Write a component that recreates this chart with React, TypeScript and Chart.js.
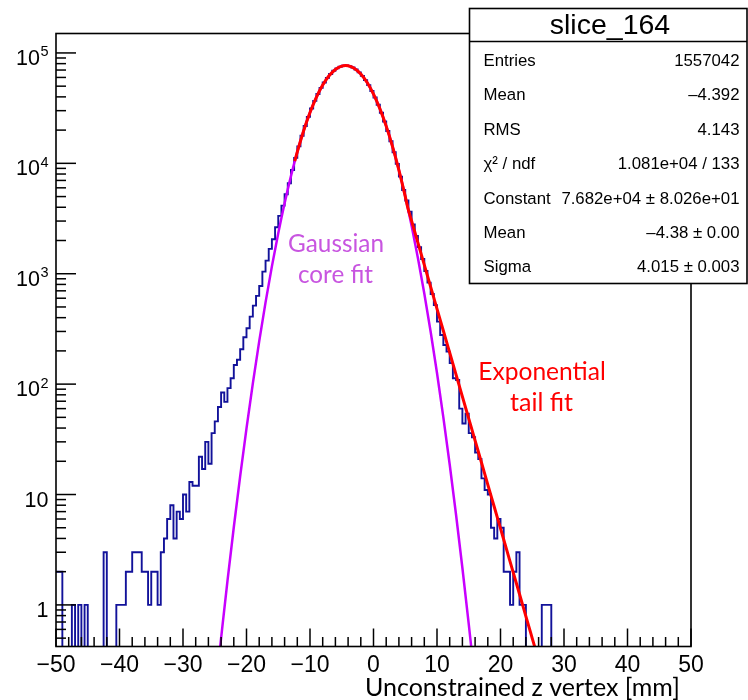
import React, { useEffect, useRef } from 'react';
import { Chart, registerables } from 'chart.js';

Chart.register(...registerables);

// ---------------- data ----------------
const histLow = -50;
const binWidth = 0.5;
// counts per 0.5 mm bin, from -50 to +50 (200 bins)
const counts = [
  2, 2, 0, 0, 0, 1, 0, 1, 0, 1, 0, 0, 0, 0, 0, 3, 0, 0, 0, 1,
  1, 1, 2, 2, 3, 3, 3, 2, 2, 1, 2, 2, 1, 3, 4, 6, 8, 4, 7, 6,
  10, 7, 13, 12, 12, 22, 17, 30, 19, 36, 46, 62, 84, 69, 92, 113, 149, 166, 207, 266,
  321, 409, 514, 630, 775, 1045, 1315, 1680, 2050, 2640, 3340, 4140, 5250, 6600, 8700, 11200, 14250, 17770, 21820, 26380,
  31400, 36810, 42490, 48270, 54010, 59500, 64540, 68920, 72470, 75040, 76500, 76780, 75880, 73840, 70740, 66730, 61990, 56690, 51050, 45250,
  39510, 33960, 28740, 23940, 19650, 15870, 12600, 9890, 7580, 5740, 4600, 3650, 2800, 2200, 1740, 1360, 1060, 830, 656, 520,
  368, 279, 226, 197, 155, 113, 109, 60, 44, 54, 36, 33, 24, 21, 14, 11, 10, 5, 4, 6,
  5, 2, 2, 1, 2, 3, 1, 1, 0, 0, 0, 0, 0, 1, 1, 1, 0, 0, 0, 0,
  0, 0, 0, 0, 0, 0, 0, 0, 0, 0, 0, 0, 0, 0, 0, 0, 0, 0, 0, 0,
  0, 0, 0, 0, 0, 0, 0, 0, 0, 0, 0, 0, 0, 0, 0, 0, 0, 0, 0, 0,
];

// Gaussian core fit curve
const gaussX = [-24.2, -23, -22, -21, -20, -19, -18, -17, -16, -15, -14, -13, -12, -11, -10, -9, -8, -7, -6, -5, -4.4, -4, -3, -2, -1, 0, 1, 2, 3, 4, 5, 6, 7, 8, 9, 10, 11, 12, 13, 14, 15, 15.4];
const gaussY = [0.393, 1.64, 5.05, 14.6, 39.7, 101.5, 244, 550, 1166, 2325, 4353, 7665, 12690, 19740, 28850, 39630, 51170, 62090, 70850, 75910, 76820, 76480, 72420, 64450, 53900, 42380, 31300, 21740, 14190, 8700, 5017, 2718, 1384, 662, 298, 126, 50.0, 18.7, 6.56, 2.16, 0.671, 0.412];

// Core + exponential tail fit curve
const tailX = [-12.4, -12, -11, -10, -9, -8, -7, -6, -5, -4.4, -4, -3, -2, -1, 0, 1, 2, 3, 4, 5, 5.4, 6, 7, 8, 9, 10, 11, 12, 13, 14, 15, 16, 17, 18, 19, 20, 21, 22, 23, 24, 25, 25.5];
const tailY = [10450, 12690, 19740, 28850, 39630, 51170, 62090, 70850, 75910, 76820, 76480, 72420, 64450, 53900, 42380, 31300, 21740, 14190, 8700, 5017, 3963, 3010, 1904, 1204, 761, 481, 304.5, 192.6, 121.8, 77.0, 48.7, 30.8, 19.5, 12.3, 7.79, 4.93, 3.12, 1.97, 1.25, 0.788, 0.498, 0.396];

const xMajorTicks = [-50, -40, -30, -20, -10, 0, 10, 20, 30, 40, 50];
const yDecades = [0, 1, 2, 3, 4, 5];
const xRange = [-50, 50];
const yRange = [0.42, 1.5e5];

const xTitle = 'Unconstrained z vertex [mm]';
const gaussLabel = ['Gaussian', 'core fit'];
const tailLabel = ['Exponential', 'tail fit'];

const statsTitle = 'slice_164';
const statsLabels = ['Entries', 'Mean', 'RMS', 'χ² / ndf', 'Constant', 'Mean', 'Sigma'];
const statsValues = ['1557042', '–4.392', '4.143', '1.081e+04 / 133', '7.682e+04 ± 8.026e+01', '–4.38 ± 0.00', '4.015 ± 0.003'];

// ---------------- styling ----------------
const SANS = '"Liberation Sans", Arial, Helvetica, sans-serif';
const CAL = 'Lato, "Open Sans", sans-serif';

function fitFont(ctx: CanvasRenderingContext2D, text: string, family: string, width: number) {
  ctx.font = `100px ${family}`;
  const w = ctx.measureText(text).width;
  const size = (100 * width) / w;
  ctx.font = `${size}px ${family}`;
}

const rootPlugin = {
  id: 'rootStyle',
  afterDatasetsDraw(chart: any) {
    const { ctx, chartArea: a } = chart;
    const x = chart.scales.x;
    const y = chart.scales.y;
    ctx.save();
    ctx.strokeStyle = '#000';
    ctx.fillStyle = '#000';
    ctx.lineWidth = 1.6;
    // frame
    ctx.strokeRect(a.left, a.top, a.right - a.left, a.bottom - a.top);

    // x ticks (inside, from bottom)
    ctx.lineWidth = 1.5;
    for (let i = 0; i < xMajorTicks.length; i++) {
      const v = xMajorTicks[i];
      const px = x.getPixelForValue(v);
      ctx.beginPath();
      ctx.moveTo(px, a.bottom);
      ctx.lineTo(px, a.bottom - 18);
      ctx.stroke();
      if (i < xMajorTicks.length - 1) {
        const step = (xMajorTicks[i + 1] - v) / 5;
        for (let m = 1; m < 5; m++) {
          const pm = x.getPixelForValue(v + m * step);
          ctx.beginPath();
          ctx.moveTo(pm, a.bottom);
          ctx.lineTo(pm, a.bottom - 9.5);
          ctx.stroke();
        }
      }
    }
    // y ticks (inside, from left)
    for (let k = yDecades[0] - 1; k <= yDecades[yDecades.length - 1]; k++) {
      for (let m = 1; m <= 9; m++) {
        const v = m * Math.pow(10, k);
        if (v < y.min || v > y.max) continue;
        const py = y.getPixelForValue(v);
        ctx.beginPath();
        ctx.moveTo(a.left, py);
        ctx.lineTo(a.left + (m === 1 ? 20 : 10), py);
        ctx.stroke();
      }
    }

    // x labels
    ctx.font = `23px ${SANS}`;
    ctx.textAlign = 'center';
    ctx.textBaseline = 'alphabetic';
    for (const v of xMajorTicks) {
      const px = x.getPixelForValue(v);
      const s = v < 0 ? '\u2212' + Math.abs(v) : String(v);
      ctx.fillText(s, px, a.bottom + 25.5);
    }
    // y labels
    ctx.textAlign = 'left';
    const rightEdge = a.left - 7.5;
    for (const k of yDecades) {
      const py = y.getPixelForValue(Math.pow(10, k));
      const base = py + 12;
      if (k === 0 || k === 1) {
        ctx.font = `21.5px ${SANS}`;
        const s = k === 0 ? '1' : '10';
        const w = ctx.measureText(s).width;
        ctx.fillText(s, rightEdge - w, base);
      } else {
        ctx.font = `14.5px ${SANS}`;
        const sup = String(k);
        const ws = ctx.measureText(sup).width;
        ctx.font = `21.5px ${SANS}`;
        const wb = ctx.measureText('10').width;
        const x0 = rightEdge - ws - wb - 0.5;
        ctx.fillText('10', x0, base);
        ctx.font = `14.5px ${SANS}`;
        ctx.fillText(sup, x0 + wb + 0.5, base - 8.5);
      }
    }

    // axis title
    ctx.textAlign = 'left';
    fitFont(ctx, xTitle, CAL, 315);
    ctx.fillStyle = '#000';
    ctx.fillText(xTitle, 365, 696);

    // annotations
    ctx.textAlign = 'center';
    ctx.fillStyle = '#C855E0';
    fitFont(ctx, gaussLabel[0], CAL, 96);
    ctx.fillText(gaussLabel[0], 336, 251.5);
    fitFont(ctx, gaussLabel[1], CAL, 75);
    ctx.fillText(gaussLabel[1], 335.5, 283);
    ctx.fillStyle = '#FF0000';
    fitFont(ctx, tailLabel[0], CAL, 127.5);
    ctx.fillText(tailLabel[0], 542, 380);
    fitFont(ctx, tailLabel[1], CAL, 63);
    ctx.fillText(tailLabel[1], 541.5, 411);

    // stats box
    const bx = 469.5, by = 8.5, bw = 277.5, bh = 275;
    ctx.fillStyle = '#fff';
    ctx.fillRect(bx, by, bw, bh);
    ctx.strokeStyle = '#000';
    ctx.lineWidth = 1.6;
    ctx.strokeRect(bx, by, bw, bh);
    ctx.beginPath();
    ctx.moveTo(bx, 41.5);
    ctx.lineTo(bx + bw, 41.5);
    ctx.stroke();
    ctx.fillStyle = '#000';
    ctx.font = `28.5px ${SANS}`;
    ctx.textAlign = 'center';
    ctx.fillText(statsTitle, 610, 33.5);
    ctx.font = `16.8px ${SANS}`;
    const rowBase = 66;
    const rowStep = 34.4;
    for (let i = 0; i < statsLabels.length; i++) {
      const yb = rowBase + i * rowStep;
      ctx.textAlign = 'left';
      ctx.fillText(statsLabels[i], 483.5, yb);
      ctx.textAlign = 'right';
      ctx.fillText(statsValues[i], 739.5, yb);
    }
    ctx.restore();
  },
};

function histPoints() {
  const pts: { x: number; y: number }[] = [];
  for (let i = 0; i < counts.length; i++) {
    const lo = histLow + i * binWidth;
    const v = counts[i] > 0 ? counts[i] : 1e-3;
    pts.push({ x: lo, y: v });
    pts.push({ x: lo + binWidth, y: v });
  }
  return pts;
}

export default function App() {
  const ref = useRef<HTMLCanvasElement>(null);
  useEffect(() => {
    document.body.style.margin = '0';
    const canvas = ref.current as HTMLCanvasElement;
    const chart = new Chart(canvas, {
      type: 'line',
      data: {
        datasets: [
          {
            label: 'tail fit',
            data: tailX.map((v, i) => ({ x: v, y: tailY[i] })),
            borderColor: '#FF0000',
            borderWidth: 3,
            pointRadius: 0,
            fill: false,
            cubicInterpolationMode: 'monotone',
            order: 0,
          },
          {
            label: 'gauss fit',
            data: gaussX.map((v, i) => ({ x: v, y: gaussY[i] })),
            borderColor: '#C800FF',
            borderWidth: 2.5,
            pointRadius: 0,
            fill: false,
            cubicInterpolationMode: 'monotone',
            order: 1,
          },
          {
            label: 'slice_164',
            data: histPoints(),
            borderColor: '#12129A',
            borderWidth: 1.9,
            pointRadius: 0,
            fill: false,
            tension: 0,
            order: 2,
          },
        ] as any,
      },
      options: {
        responsive: false,
        animation: false,
        events: [],
        layout: { padding: { left: 56, top: 33.5, right: 57, bottom: 53.5 } },
        scales: {
          x: { type: 'linear', min: xRange[0], max: xRange[1], display: false },
          y: { type: 'logarithmic', min: yRange[0], max: yRange[1], display: false },
        },
        plugins: { legend: { display: false }, tooltip: { enabled: false } },
      },
      plugins: [rootPlugin],
    });
    return () => chart.destroy();
  }, []);
  return (
    <div style={{ width: 748, height: 700 }}>
      <canvas ref={ref} width={748} height={700} style={{ display: 'block', width: 748, height: 700 }} />
    </div>
  );
}
